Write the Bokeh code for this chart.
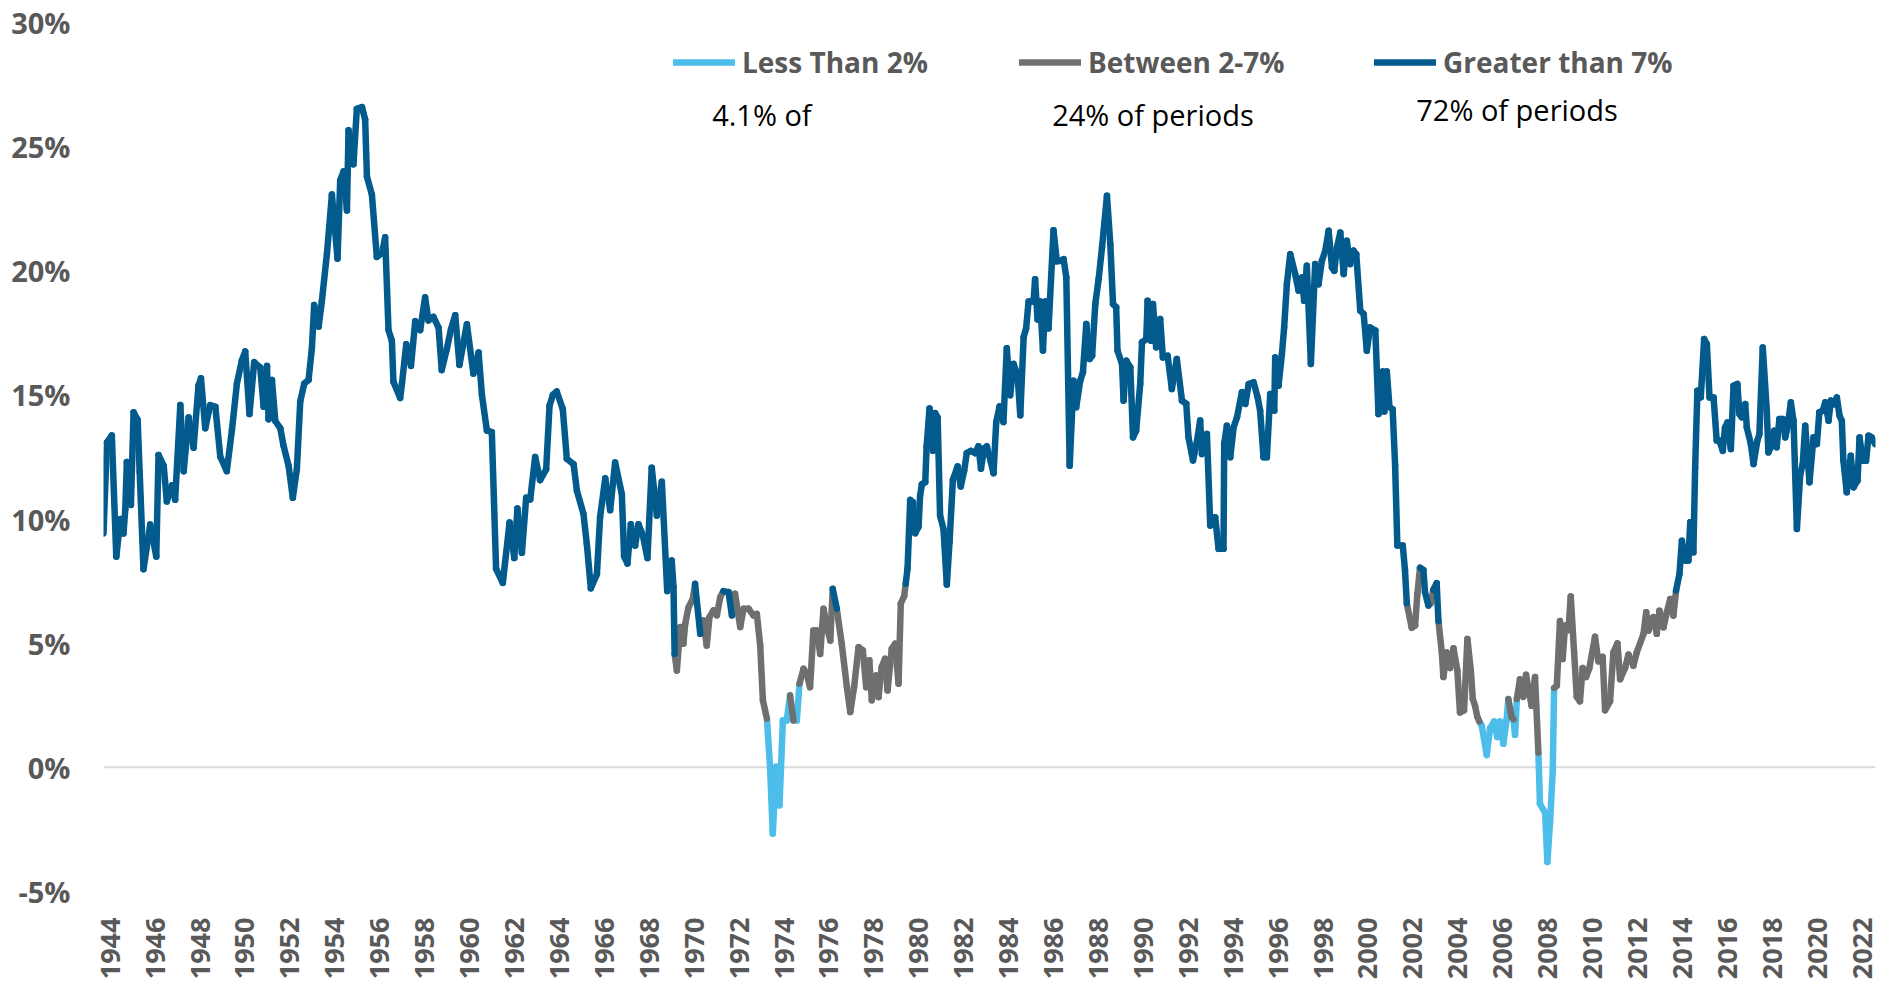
import math
import numpy as np
from bokeh.plotting import figure
from bokeh.models import (Range1d, FixedTicker, PrintfTickFormatter, Span,
                          Legend, LegendItem, Label)
from bokeh.embed import file_html
from bokeh.resources import INLINE

# ---- data (decimal year, value in %) ----
dates_1940s = [1943.70, 1943.85, 1944.07, 1944.27, 1944.45, 1944.59, 1944.67, 1944.74, 1944.92, 1945.04,
               1945.22, 1945.31, 1945.48, 1945.78, 1946.05, 1946.15, 1946.38, 1946.52, 1946.75, 1946.89,
               1947.12, 1947.27, 1947.49, 1947.71, 1947.93, 1948.04, 1948.23, 1948.45, 1948.68, 1948.90,
               1949.19, 1949.42, 1949.64, 1949.86]
values_1940s = [9.42, 13.08, 13.37, 8.49, 10.0, 9.42, 10.4, 12.3, 10.57, 14.3,
                14.0, 11.9, 7.98, 9.78, 8.49, 12.58, 12.15, 10.71, 11.36, 10.78,
                14.59, 11.93, 14.09, 12.87, 15.38, 15.67, 13.66, 14.59, 14.52, 12.51,
                11.93, 13.59, 15.46, 16.39]

dates_1950s = [1950.01, 1950.20, 1950.41, 1950.68, 1950.83, 1950.98, 1951.05, 1951.20, 1951.35, 1951.57,
               1951.72, 1951.94, 1952.13, 1952.31, 1952.46, 1952.64, 1952.83, 1952.98, 1953.08, 1953.28,
               1953.42, 1953.65, 1953.87, 1954.12, 1954.24, 1954.39, 1954.54, 1954.61, 1954.83, 1954.98,
               1955.21, 1955.35, 1955.43, 1955.65, 1955.87, 1956.10, 1956.24, 1956.39, 1956.54, 1956.61,
               1956.91, 1956.99, 1957.18, 1957.39, 1957.58, 1957.80, 1958.02, 1958.17, 1958.39, 1958.62,
               1958.76, 1958.99, 1959.17, 1959.36, 1959.55, 1959.88]
values_1950s = [16.75, 14.23, 16.32, 16.1, 14.52, 16.17, 14.02, 15.6, 13.95, 13.66,
                12.94, 12.15, 10.86, 12.01, 14.74, 15.46, 15.6, 16.89, 18.62, 17.75,
                18.76, 20.7, 23.07, 20.49, 23.65, 24.0, 22.43, 25.66, 24.29, 26.52,
                26.59, 26.09, 23.79, 23.07, 20.56, 20.7, 21.35, 17.61, 17.18, 15.53,
                14.88, 15.46, 17.04, 16.17, 17.97, 17.61, 18.93, 18.0, 18.14, 17.71,
                16.0, 16.86, 17.64, 18.21, 16.21, 17.85]

dates_1960s = [1960.17, 1960.40, 1960.55, 1960.77, 1960.99, 1961.18, 1961.48, 1961.78, 1961.99, 1962.13,
               1962.33, 1962.52, 1962.70, 1962.92, 1963.14, 1963.41, 1963.56, 1963.71, 1963.88, 1964.15,
               1964.33, 1964.63, 1964.78, 1965.07, 1965.22, 1965.40, 1965.67, 1965.81, 1966.04, 1966.26,
               1966.48, 1966.78, 1966.88, 1967.03, 1967.18, 1967.37, 1967.52, 1967.71, 1967.92, 1968.11,
               1968.34, 1968.56, 1968.80, 1969.00, 1969.08, 1969.13, 1969.23, 1969.38, 1969.52, 1969.60,
               1969.75, 1969.94]
values_1960s = [15.86, 16.71, 15.0, 13.57, 13.5, 8.0, 7.43, 9.86, 8.43, 10.43,
                8.64, 10.86, 10.79, 12.5, 11.57, 12.0, 14.57, 15.0, 15.14, 14.43,
                12.43, 12.21, 11.14, 10.21, 9.0, 7.21, 7.78, 10.07, 11.64, 10.36,
                12.28, 11.0, 8.5, 8.21, 9.79, 8.93, 9.79, 9.36, 8.43, 12.07,
                10.14, 11.5, 7.1, 8.33, 7.26, 4.57, 3.9, 5.65, 4.98, 5.78,
                6.45, 6.79]

dates_1970s = [1970.04, 1970.27, 1970.41, 1970.56, 1970.68, 1970.86, 1971.01, 1971.16, 1971.30, 1971.53,
               1971.68, 1971.82, 1972.05, 1972.20, 1972.42, 1972.64, 1972.79, 1972.94, 1973.06, 1973.24,
               1973.38, 1973.50, 1973.65, 1973.80, 1973.95, 1974.12, 1974.27, 1974.42, 1974.57, 1974.69,
               1974.87, 1975.01, 1975.16, 1975.31, 1975.46, 1975.61, 1975.76, 1975.91, 1976.06, 1976.17,
               1976.35, 1976.57, 1976.80, 1976.95, 1977.12, 1977.32, 1977.51, 1977.66, 1977.80, 1977.91,
               1978.10, 1978.21, 1978.35, 1978.50, 1978.61, 1978.80, 1978.95, 1979.10, 1979.20, 1979.35,
               1979.42, 1979.50, 1979.62, 1979.74, 1979.84, 1979.99]
values_1970s = [7.39, 5.38, 5.92, 4.91, 6.05, 6.32, 6.12, 6.85, 7.1, 7.06,
                6.12, 6.99, 5.65, 6.39, 6.39, 6.12, 6.18, 4.91, 2.7, 1.96,
                0.0, -2.67, 0.02, -1.53, 1.89, 1.89, 2.9, 1.89, 1.89, 3.37,
                3.97, 3.77, 3.23, 5.51, 5.51, 4.57, 6.39, 5.65, 5.11, 7.19,
                6.39, 4.98, 3.23, 2.23, 3.23, 4.84, 4.71, 3.23, 4.31, 2.7,
                3.7, 2.83, 4.04, 4.37, 3.1, 4.78, 4.98, 3.37, 6.6, 6.9,
                7.4, 8.0, 10.77, 10.68, 9.43, 9.69]

dates_1980s = [1980.06, 1980.14, 1980.29, 1980.35, 1980.48, 1980.63, 1980.73, 1980.84, 1980.95, 1981.10,
               1981.25, 1981.37, 1981.52, 1981.73, 1981.87, 1982.02, 1982.14, 1982.32, 1982.51, 1982.66,
               1982.77, 1982.91, 1983.03, 1983.21, 1983.33, 1983.45, 1983.60, 1983.77, 1983.92, 1984.07,
               1984.22, 1984.40, 1984.52, 1984.67, 1984.78, 1984.89, 1985.11, 1985.18, 1985.29, 1985.41,
               1985.53, 1985.63, 1985.78, 1986.00, 1986.15, 1986.30, 1986.45, 1986.57, 1986.72, 1986.89,
               1987.01, 1987.19, 1987.31, 1987.46, 1987.61, 1987.72, 1987.86, 1988.01, 1988.16, 1988.38,
               1988.53, 1988.65, 1988.79, 1988.85, 1989.05, 1989.12, 1989.24, 1989.42, 1989.54, 1989.68,
               1989.86, 1989.94]
values_1980s = [10.95, 11.4, 11.49, 12.93, 14.45, 12.75, 14.27, 14.09, 10.14, 9.6,
                7.36, 9.07, 11.58, 12.12, 11.31, 11.94, 12.66, 12.75, 12.66, 12.93,
                12.03, 12.84, 12.93, 12.3, 11.85, 13.91, 14.54, 13.91, 16.88, 14.99,
                16.25, 15.8, 14.18, 17.33, 17.68, 18.76, 18.76, 19.66, 18.04, 18.76,
                16.79, 18.76, 17.68, 21.63, 20.38, 20.4, 20.47, 19.73, 12.15, 15.57,
                14.5, 15.57, 15.91, 17.86, 16.45, 16.58, 18.66, 19.67, 20.94, 23.02,
                21.07, 18.66, 18.53, 16.78, 16.25, 14.77, 16.38, 16.11, 13.29, 13.56,
                15.44, 17.12]

dates_1990s = [1990.13, 1990.19, 1990.34, 1990.43, 1990.57, 1990.75, 1990.87, 1991.08, 1991.27, 1991.49,
               1991.72, 1991.91, 1992.01, 1992.21, 1992.38, 1992.53, 1992.61, 1992.83, 1992.98, 1993.20,
               1993.35, 1993.57, 1993.60, 1993.72, 1993.87, 1994.02, 1994.17, 1994.39, 1994.54, 1994.69,
               1994.91, 1995.09, 1995.20, 1995.35, 1995.50, 1995.65, 1995.83, 1995.87, 1996.02, 1996.17,
               1996.27, 1996.39, 1996.54, 1996.76, 1996.91, 1997.06, 1997.16, 1997.28, 1997.46, 1997.65,
               1997.80, 1997.95, 1998.10, 1998.25, 1998.40, 1998.50, 1998.62, 1998.77, 1998.92, 1999.06,
               1999.21, 1999.36, 1999.48, 1999.66, 1999.81, 1999.95]
values_1990s = [17.25, 18.79, 17.18, 18.66, 16.92, 18.06, 16.51, 16.58, 15.24, 16.45,
                14.77, 14.64, 13.29, 12.36, 13.09, 13.97, 12.62, 13.43, 9.74, 10.07,
                8.8, 8.8, 13.03, 13.76, 12.49, 13.7, 14.1, 15.11, 14.64, 15.44,
                15.51, 14.9, 14.37, 12.49, 12.49, 15.04, 14.37, 16.51, 15.37, 16.65,
                17.72, 19.46, 20.67, 19.87, 19.2, 19.73, 18.79, 20.2, 16.25, 20.27,
                19.46, 20.4, 20.81, 21.61, 20.13, 20.0, 20.94, 21.54, 19.87, 21.21,
                20.27, 20.81, 20.67, 18.39, 18.26, 16.78]

dates_2000s = [2000.10, 2000.33, 2000.47, 2000.66, 2000.73, 2000.84, 2000.96, 2001.10, 2001.21, 2001.31,
               2001.55, 2001.65, 2001.73, 2001.95, 2002.10, 2002.20, 2002.32, 2002.47, 2002.54, 2002.69,
               2002.80, 2002.91, 2003.06, 2003.14, 2003.29, 2003.36, 2003.51, 2003.66, 2003.81, 2003.98,
               2004.10, 2004.28, 2004.43, 2004.58, 2004.67, 2004.77, 2004.87, 2004.96, 2005.07, 2005.29,
               2005.44, 2005.62, 2005.76, 2005.88, 2006.03, 2006.18, 2006.25, 2006.40, 2006.48, 2006.55,
               2006.63, 2006.77, 2006.92, 2007.04, 2007.14, 2007.29, 2007.44, 2007.59, 2007.66, 2007.89,
               2007.99, 2008.11, 2008.23, 2008.29, 2008.41, 2008.55, 2008.67, 2008.78, 2008.93, 2009.03,
               2009.18, 2009.30, 2009.44, 2009.56, 2009.71, 2009.86]
values_2000s = [17.72, 17.59, 14.23, 15.94, 14.33, 15.94, 14.51, 14.42, 12.17, 8.94,
                8.94, 7.95, 6.61, 5.62, 5.71, 6.97, 8.04, 7.95, 7.06, 6.52,
                6.61, 7.15, 7.42, 5.89, 4.63, 3.64, 4.63, 4.0, 4.8, 3.91,
                2.21, 2.3, 5.17, 3.91, 2.75, 2.48, 2.03, 1.85, 1.67, 0.5,
                1.58, 1.85, 1.22, 1.85, 0.95, 1.94, 2.75, 2.03, 1.94, 1.31,
                2.75, 3.55, 2.84, 3.73, 3.2, 2.48, 3.64, 0.59, -1.47, -1.83,
                -3.81, -2.19, -0.13, 3.2, 3.29, 5.89, 4.36, 5.71, 5.53, 6.88,
                4.63, 2.84, 2.66, 4.0, 3.64, 4.0]

dates_2010s = [2010.11, 2010.26, 2010.45, 2010.56, 2010.78, 2010.93, 2011.11, 2011.23, 2011.45, 2011.60,
               2011.82, 2011.97, 2012.27, 2012.39, 2012.49, 2012.71, 2012.86, 2012.98, 2013.16, 2013.31,
               2013.46, 2013.60, 2013.72, 2013.87, 2013.98, 2014.12, 2014.27, 2014.35, 2014.49, 2014.57,
               2014.67, 2014.82, 2014.97, 2015.09, 2015.21, 2015.39, 2015.53, 2015.65, 2015.80, 2015.90,
               2016.01, 2016.16, 2016.28, 2016.45, 2016.54, 2016.65, 2016.80, 2016.87, 2017.05, 2017.17,
               2017.34, 2017.43, 2017.58, 2017.76, 2017.83, 2017.98, 2018.09, 2018.20, 2018.32, 2018.47,
               2018.58, 2018.68, 2018.83, 2018.95, 2019.10, 2019.25, 2019.36, 2019.47, 2019.66, 2019.84,
               2019.99]
values_2010s = [5.26, 4.27, 4.45, 2.3, 2.66, 4.63, 4.99, 3.55, 4.0, 4.54,
                4.09, 4.63, 5.38, 6.25, 5.51, 6.05, 5.38, 6.31, 5.64, 6.25,
                6.78, 6.11, 7.12, 7.79, 9.13, 8.33, 8.33, 9.87, 8.66, 12.08,
                15.17, 14.9, 17.25, 17.05, 14.9, 14.9, 13.16, 13.16, 12.75, 13.69,
                13.89, 12.82, 15.37, 15.44, 14.23, 14.1, 14.63, 13.69, 13.02, 12.22,
                13.16, 13.42, 16.91, 14.36, 12.69, 12.95, 13.56, 12.89, 14.03, 14.03,
                13.29, 13.69, 14.7, 13.96, 9.6, 11.81, 12.22, 13.76, 11.48, 13.29,
                13.02]

dates_2020s = [2020.10, 2020.25, 2020.36, 2020.51, 2020.61, 2020.76, 2020.88, 2021.00, 2021.10, 2021.17,
               2021.32, 2021.50, 2021.62, 2021.80, 2021.89, 2022.03, 2022.18, 2022.29, 2022.43, 2022.58]
values_2020s = [14.3, 14.36, 14.7, 13.96, 14.77, 14.63, 14.9, 14.16, 13.96, 12.35,
                11.08, 12.55, 11.28, 11.55, 13.29, 12.35, 12.35, 13.36, 13.29, 13.02]

series_names = ["Less Than 2%", "Between 2-7%", "Greater than 7%"]
series_notes = ["4.1% of", "24% of periods", "72% of periods"]
thresholds = [2.0, 7.0]
x_ticks = list(range(1944, 2023, 2))
y_ticks = [-5, 0, 5, 10, 15, 20, 25, 30]

# ---- build ----
dates = np.array(dates_1940s + dates_1950s + dates_1960s + dates_1970s + dates_1980s +
                 dates_1990s + dates_2000s + dates_2010s + dates_2020s)
vals = np.array(values_1940s + values_1950s + values_1960s + values_1970s + values_1980s +
                values_1990s + values_2000s + values_2010s + values_2020s)
cat = np.where(vals < thresholds[0], 0, np.where(vals <= thresholds[1], 1, 2))

colors = ["#4DBDEA", "#6E6F6F", "#035B8D"]
LABEL_GREY = "#595959"
FONT = "Open Sans"

p = figure(width=1886, height=983, output_backend="svg", toolbar_location=None,
           x_range=Range1d(1943.7, 2022.6), y_range=Range1d(-5, 30),
           min_border_left=103, min_border_right=11, min_border_top=22, min_border_bottom=92)
p.outline_line_color = None
p.background_fill_color = "white"
p.border_fill_color = "white"
p.xgrid.visible = False
p.ygrid.visible = False

zero = Span(location=0, dimension="width", line_color="#D9D9D9", line_width=2, level="underlay")
p.add_layout(zero)

renderers = []
for c in range(3):
    m = cat[:-1] == c
    r = p.segment(x0=dates[:-1][m], y0=vals[:-1][m], x1=dates[1:][m], y1=vals[1:][m],
                  line_color=colors[c], line_width=6.5, line_cap="round")
    renderers.append(r)

# axes
for ax in (p.xaxis[0], p.yaxis[0]):
    ax.axis_line_color = None
    ax.major_tick_line_color = None
    ax.minor_tick_line_color = None
    ax.major_label_text_font = FONT
    ax.major_label_text_font_style = "bold"
    ax.major_label_text_color = LABEL_GREY

p.yaxis[0].ticker = FixedTicker(ticks=y_ticks)
p.yaxis[0].formatter = PrintfTickFormatter(format="%d%%")
p.yaxis[0].major_label_standoff = 27
p.yaxis[0].major_label_text_font_size = "29px"
p.xaxis[0].ticker = FixedTicker(ticks=x_ticks)
p.xaxis[0].major_label_orientation = math.pi / 2
p.xaxis[0].major_label_standoff = 20
p.xaxis[0].major_label_text_font_size = "27px"

# legends (one per series, placed individually)
leg_lefts = [570, 916, 1271]
for c in range(3):
    leg = Legend(items=[LegendItem(label=series_names[c], renderers=[renderers[c]])],
                 location=(leg_lefts[c], 810), orientation="horizontal",
                 glyph_width=62, glyph_height=30, label_standoff=7, padding=0, margin=0,
                 border_line_color=None, background_fill_alpha=0,
                 label_text_font=FONT, label_text_font_style="bold",
                 label_text_font_size="28px", label_text_color=LABEL_GREY)
    p.add_layout(leg)

note_x = [1970.80, 1985.94, 2002.15]
note_y = [26.28, 26.28, 26.48]
for c in range(3):
    p.add_layout(Label(x=note_x[c], y=note_y[c], text=series_notes[c], text_font=FONT,
                       text_font_size="29px", text_color="black", text_baseline="middle",
                       text_align="left"))

open("out.html", "w").write(file_html(p, INLINE))
